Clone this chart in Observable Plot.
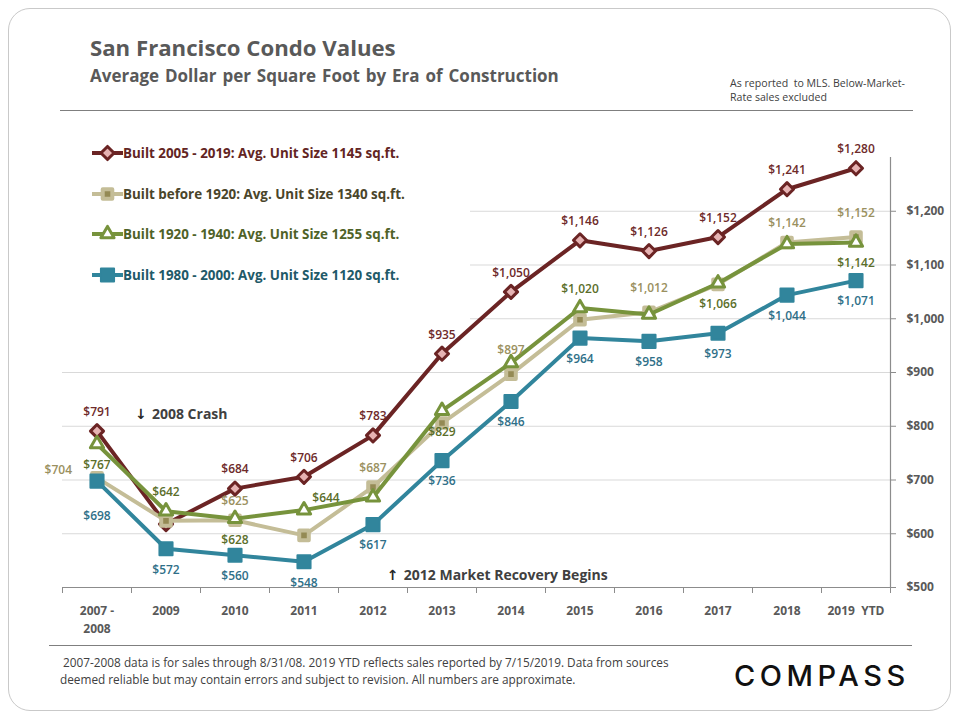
<!DOCTYPE html>
<html><head><meta charset="utf-8">
<script src="https://cdn.jsdelivr.net/npm/d3@7"></script>
<script src="https://cdn.jsdelivr.net/npm/@observablehq/plot@0.6"></script>
<style>
body{margin:0;background:#fff;font-family:"Open Sans","Noto Sans",sans-serif;}
#page{position:relative;width:960px;height:720px;overflow:hidden;background:#fff;}
.abs{position:absolute;}
#legend .row{position:absolute;left:30px;height:20px;display:flex;align-items:center;font-weight:700;font-size:13.4px;white-space:nowrap;}
#legend svg{display:block;}
</style></head><body>
<div id="page">
  <div class="abs" style="left:8px;top:8px;width:941px;height:701px;border:1px solid #c9c9c9;border-radius:22px;"></div>
  <div class="abs" style="left:90px;top:32px;font-size:22.2px;font-weight:700;color:#595959;">San Francisco Condo Values</div>
  <div class="abs" style="left:90px;top:64px;font-size:17px;font-weight:700;color:#595959;word-spacing:1.5px;">Average Dollar per Square Foot by Era of Construction</div>
  <div class="abs" style="left:730px;top:76px;font-size:10.6px;line-height:14px;color:#404040;">As reported&nbsp; to MLS. Below-Market-<br>Rate sales excluded</div>
  <div class="abs" style="left:60px;top:110px;width:853px;height:1px;background:#7f7f7f;"></div>
  <div id="chart" class="abs" style="left:0;top:130px;"></div>
  <div id="legend" class="abs" style="left:62px;top:130px;width:408px;height:194px;background:#fff;"></div>
  <div class="abs" style="left:49px;top:645px;width:863px;height:1px;background:#7f7f7f;"></div>
  <div class="abs" style="left:60px;top:654px;font-size:11.8px;line-height:17px;color:#404040;">&nbsp;2007-2008 data is for sales through 8/31/08. 2019 YTD reflects sales reported by 7/15/2019. Data from sources<br>deemed reliable but may contain errors and subject to revision. All numbers are approximate.</div>
  <div class="abs" style="left:734px;top:658px;font-size:29px;font-family:Inter,'Noto Sans',sans-serif;font-weight:500;letter-spacing:4.5px;color:#111;">COMPASS</div>
</div>
<script>
// ---- data ----
const categories = ["2007 -\n2008","2009","2010","2011","2012","2013","2014","2015","2016","2017","2018","2019  YTD"];
const seriesNames = [
  "Built 2005 - 2019: Avg. Unit Size 1145 sq.ft.",
  "Built before 1920: Avg. Unit Size 1340 sq.ft.",
  "Built 1920 - 1940: Avg. Unit Size 1255 sq.ft.",
  "Built 1980 - 2000: Avg. Unit Size 1120 sq.ft."
];
const built2005to2019 = [791, 618, 684, 706, 783, 935, 1050, 1146, 1126, 1152, 1241, 1280];
const builtBefore1920 = [704, 624, 625, 597, 687, 806, 897, 998, 1012, 1064, 1142, 1152];
const built1920to1940 = [767, 642, 628, 644, 668, 829, 918, 1020, 1008, 1066, 1139, 1142];
const built1980to2000 = [698, 572, 560, 548, 617, 736, 846, 964, 958, 973, 1044, 1071];
const yTicks = [500, 600, 700, 800, 900, 1000, 1100, 1200];
const annotations = [
  {arrow: "\u2193", text: "2008 Crash", i: 0.55, value: 821},
  {arrow: "\u2191", text: "2012 Market Recovery Begins", i: 4.2, value: 522}
];

// label placement per point (null = no label shown)
const labelPlaces = [
  ["a",null,"a","a","a","a","a","a","a","a","a","a"],
  ["l",null,"a",null,"a",null,"aa",null,"aa",null,"a","aa"],
  ["b","a","b","ar",null,"b",null,"a",null,"b",null,"b"],
  ["bb","b","b","b","b","b","b","b","b","b","b","b"]
];
const placeOpts = {
  a: {dy: -19},
  aa: {dy: -24},
  b: {dy: 21},
  bb: {dy: 35},
  l: {dx: -25, dy: -8, textAnchor: "end"},
  ar: {dx: 22, dy: -12}
};

const styles = [
  {line: "#6b2424", label: "#6e2a2a", symbol: "diamond2", r: 5.9, fill: "#e6b3b3", stroke: "#6b2424", sw: 3},
  {line: "#c4bd97", label: "#9a9060", symbol: "square", r: 5.4, fill: "#948a54", stroke: "#c4bd97", sw: 4},
  {line: "#77933c", label: "#5b6e2a", symbol: "triangle2", r: 6.3, fill: "#ffffff", stroke: "#77933c", sw: 3},
  {line: "#31859c", label: "#2f6f88", symbol: "square", r: 7.4, fill: "#31859c", stroke: "#31859c", sw: 2}
];
const legendText = ["#632523", "#4a452a", "#4f6228", "#215968"];

const allSeries = [built2005to2019, builtBefore1920, built1920to1940, built1980to2000];
const rows = [];
allSeries.forEach((vals, s) => vals.forEach((v, i) => rows.push({s, series: seriesNames[s], i, value: v, place: labelPlaces[s][i]})));

const fmt = d => "$" + d3.format(",")(d);
const idx = categories.map((_, i) => i);
const bounds = d3.range(categories.length + 1).map(i => i - 0.5);
const FONT = "'Open Sans', 'Noto Sans', sans-serif";

const marks = [
  Plot.ruleY(yTicks.filter(d => d > 500), {stroke: "#d9d9d9", strokeWidth: 1}),
  Plot.ruleY([500], {stroke: "#8c8c8c", strokeWidth: 1.2}),
  Plot.ruleX([categories.length - 0.5], {stroke: "#8c8c8c", strokeWidth: 1.2}),
  Plot.axisX({ticks: bounds, tickSize: 6, tickFormat: () => "", stroke: "#8c8c8c", label: null}),
  Plot.axisX({ticks: idx, tickSize: 0, tickPadding: 14, tickFormat: i => categories[i], fill: "#595959", fontSize: 12, fontWeight: 700, lineHeight: 1.55, textAnchor: "middle", label: null}),
  Plot.axisY({anchor: "right", ticks: yTicks, tickSize: 5, tickPadding: 11, tickFormat: fmt, stroke: "#8c8c8c", fill: "#595959", fontSize: 12, fontWeight: 700, textAnchor: "start", label: null}),
  Plot.text(annotations, {x: "i", y: "value", text: "arrow", textAnchor: "start", fill: "#262626", fontSize: 14, fontWeight: 700, fontFamily: "'DejaVu Sans', sans-serif"}),
  Plot.text(annotations, {x: "i", y: "value", text: "text", dx: 17, textAnchor: "start", fill: "#404040", fontSize: 14, fontWeight: 700})
];

styles.forEach((st, s) => {
  const data = rows.filter(d => d.s === s);
  marks.push(Plot.line(data, {x: "i", y: "value", stroke: st.line, strokeWidth: 4, strokeLinejoin: "round"}));
  marks.push(Plot.dot(data, {x: "i", y: "value", symbol: st.symbol, r: st.r, fill: st.fill, stroke: st.stroke, strokeWidth: st.sw, strokeLinejoin: "round"}));
});
styles.forEach((st, s) => {
  for (const [code, o] of Object.entries(placeOpts)) {
    const data = rows.filter(d => d.s === s && d.place === code);
    if (!data.length) continue;
    marks.push(Plot.text(data, {x: "i", y: "value", text: d => fmt(d.value), fill: st.label, fontSize: 12, fontWeight: 600, ...o}));
  }
});

const chart = Plot.plot({
  width: 960,
  height: 507,
  marginLeft: 62,
  marginRight: 70,
  marginTop: 27,
  marginBottom: 50,
  style: {fontFamily: FONT, overflow: "visible", background: "transparent"},
  x: {type: "linear", domain: [-0.5, categories.length - 0.5], axis: null},
  y: {domain: [500, 1300], axis: null},
  marks
});
document.getElementById("chart").appendChild(chart);

// legend
const legend = document.getElementById("legend");
const symMap = {diamond2: d3.symbolDiamond2, square: d3.symbolSquare, triangle2: d3.symbolTriangle2};
styles.forEach((st, s) => {
  const row = document.createElement("div");
  row.className = "row";
  row.style.top = (13 + s * 40.7) + "px";
  const svg = d3.create("svg").attr("width", 31).attr("height", 20);
  svg.append("line").attr("x1", 0).attr("x2", 31).attr("y1", 10).attr("y2", 10).attr("stroke", st.line).attr("stroke-width", 4);
  svg.append("path").attr("transform", "translate(15.5,10)")
    .attr("d", d3.symbol(symMap[st.symbol], Math.PI * st.r * st.r)())
    .attr("fill", st.fill).attr("stroke", st.stroke).attr("stroke-width", st.sw).attr("stroke-linejoin", "round");
  row.appendChild(svg.node());
  const span = document.createElement("span");
  span.textContent = seriesNames[s];
  span.style.color = legendText[s];
  row.appendChild(span);
  legend.appendChild(row);
});
</script>
</body></html>
